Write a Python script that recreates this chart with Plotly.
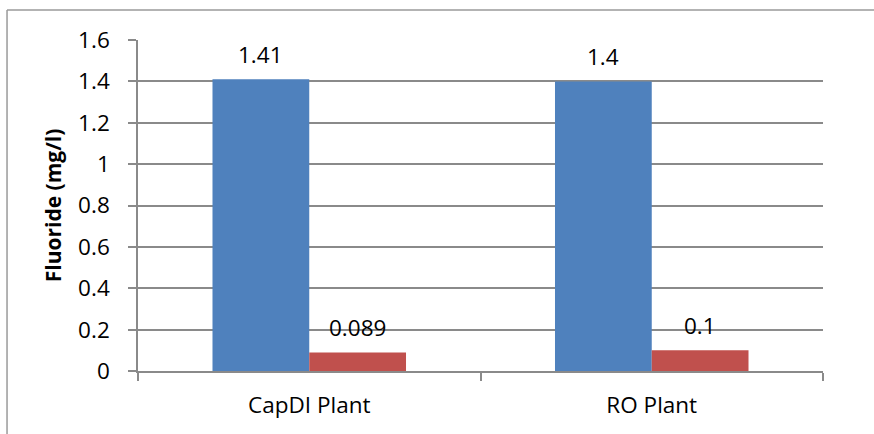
import plotly.graph_objects as go

# Fluoride concentration per plant: feed water vs. treated product
plants = ["CapDI Plant", "RO Plant"]
feed_values = [1.41, 1.4]
product_values = [0.089, 0.1]
value_labels_feed = ["1.41", "1.4"]
value_labels_product = ["0.089", "0.1"]
y_ticks = [0, 0.2, 0.4, 0.6, 0.8, 1, 1.2, 1.4, 1.6]

BLUE = "#4F81BD"
RED = "#C0504D"
GRID = "#8a8a8a"
FONT = "Open Sans"
TXT = 22.5

fig = go.Figure()
fig.add_trace(go.Bar(x=plants, y=feed_values, marker=dict(color=BLUE, line=dict(width=0)),
                     name="Feed", showlegend=False))
fig.add_trace(go.Bar(x=plants, y=product_values, marker=dict(color=RED, line=dict(width=0)),
                     name="Product", showlegend=False))

# value labels above each bar, shifted onto their own bar within the group
BAR_PX = 97
for plant, v, t in zip(plants, feed_values, value_labels_feed):
    fig.add_annotation(x=plant, y=v, text=t, showarrow=False, xshift=-BAR_PX / 2,
                       yshift=25, yanchor="middle", font=dict(family=FONT, size=TXT, color="black"))
for plant, v, t in zip(plants, product_values, value_labels_product):
    fig.add_annotation(x=plant, y=v, text=t, showarrow=False, xshift=BAR_PX / 2,
                       yshift=25, yanchor="middle", font=dict(family=FONT, size=TXT, color="black"))

# chart-area frame: only its left and top edges fall inside the page
FRAME = dict(color="#9a9a9a", width=1.5)
fig.add_shape(type="line", xref="paper", yref="paper",
              x0=-0.1912, x1=-0.1912, y0=-0.5, y1=1.0906, line=FRAME, layer="below")
fig.add_shape(type="line", xref="paper", yref="paper",
              x0=-0.1912, x1=1.5, y0=1.0906, y1=1.0906, line=FRAME, layer="below")

fig.update_layout(
    width=874, height=434,
    margin=dict(l=138, r=51, t=40, b=63),
    paper_bgcolor="white", plot_bgcolor="white",
    barmode="group", bargap=0.435, bargroupgap=0,
    font=dict(family=FONT, size=TXT, color="black"),
    xaxis=dict(type="category", tickson="boundaries", ticks="outside", ticklen=8,
               tickcolor=GRID, tickwidth=1.5, showgrid=False, showline=True,
               linecolor=GRID, linewidth=1.5, ticklabelstandoff=13,
               tickfont=dict(family=FONT, size=TXT, color="black")),
    yaxis=dict(range=[0, 1.6], tickvals=y_ticks, ticks="outside", ticklen=8,
               tickcolor=GRID, tickwidth=1.5, showgrid=True, gridcolor=GRID, gridwidth=1.5,
               showline=True, linecolor=GRID, linewidth=1.5, zeroline=False,
               ticklabelstandoff=14,
               tickfont=dict(family=FONT, size=TXT, color="black"),
               title=dict(text="<b>Fluoride (mg/l)</b>", standoff=11,
                          font=dict(family=FONT, size=21, color="black"))),
)

# keep the page from scrolling so the figure fills the window edge to edge
fig.write_html("out.html",
               post_script="document.body.style.margin='0';document.body.style.overflow='hidden';")
